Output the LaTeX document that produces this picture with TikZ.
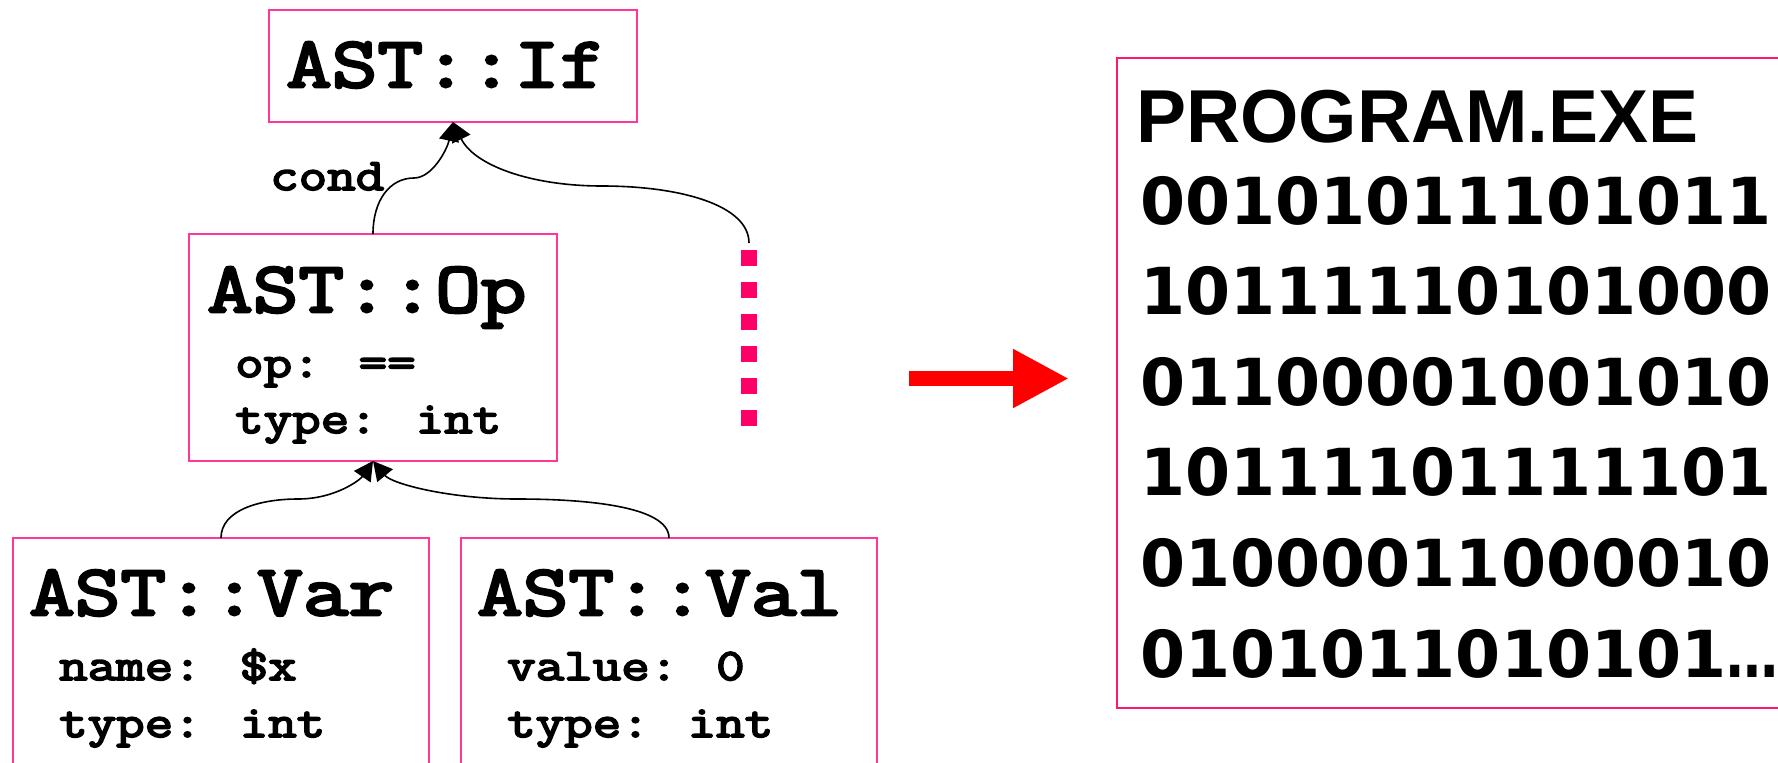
\documentclass[tikz,border=0pt]{standalone}
\usepackage{fontspec}
\usepackage{graphicx}
\usetikzlibrary{arrows.meta}
\newfontfamily\courfont{Latin Modern Mono}[FakeBold=4,FakeStretch=1.23]
\newfontfamily\helvfont{Liberation Sans}
\newfontfamily\binfont{DejaVu Sans}
\definecolor{boxpink}{RGB}{255,55,155}
\definecolor{exepink}{RGB}{255,25,110}
\definecolor{dotpink}{RGB}{255,0,102}
\tikzset{
  astbox/.style={draw=boxpink, line width=2pt, inner sep=0pt, outer sep=0pt},
  exebox/.style={draw=exepink, line width=2pt, inner sep=0pt, outer sep=0pt},
  conn/.style={line width=1.6pt, -{Triangle[length=19pt,width=20pt]}},
  bigtxt/.style={anchor=base west, inner sep=0pt, font=\courfont\fontsize{72}{72}\selectfont},
  smalltxt/.style={anchor=base west, inner sep=0pt, font=\courfont\fontsize{45}{45}\selectfont},
  bintxt/.style={anchor=base west, inner sep=0pt, font=\binfont\bfseries\fontsize{64.8}{64.8}\selectfont},
}
\begin{document}
\begin{tikzpicture}[x=1pt,y=-1pt]
\useasboundingbox (0,0) rectangle (1778,763);
\clip (0,0) rectangle (1778,763);
% boxes
\node[astbox, minimum width=368pt, minimum height=112pt] (if) at (453,66) {};
\node[astbox, minimum width=368pt, minimum height=227pt] (op) at (373,347.5) {};
\node[astbox, minimum width=416pt, minimum height=242pt] (var) at (221,659) {};
\node[astbox, minimum width=416pt, minimum height=242pt] (val) at (669,659) {};
\node[exebox, minimum width=683pt, minimum height=650pt] (exe) at (1458.5,383) {};
% texts
\node[bigtxt] (tif) at (286,87) {AST::If};
\node[smalltxt] (tcond) at (270,190) {cond};
\node[bigtxt] (top) at (207,312) {AST::Op};
\node[smalltxt] (top1) at (235,377) {op: ==};
\node[smalltxt] (top2) at (235,433) {type: int};
\node[bigtxt] (tvar) at (29,615) {AST::Var};
\node[smalltxt] (tvar1) at (59,680) {name: \$x};
\node[smalltxt] (tvar2) at (59,737) {type: int};
\node[bigtxt] (tval) at (477,615) {AST::Val};
\node[smalltxt] (tval1) at (507,680) {value: 0};
\node[smalltxt] (tval2) at (507,737) {type: int};
\node[anchor=base west, inner sep=0pt, font=\helvfont\bfseries\fontsize{75}{75}\selectfont] (tprog) at (1136,142) {PROGRAM.EXE};
\node[bintxt] (b1) at (1140,224) {00101011101011};
\node[bintxt] (b2) at (1140,314.6) {10111110101000};
\node[bintxt] (b3) at (1140,405.2) {01100001001010};
\node[bintxt] (b4) at (1140,495.8) {10111101111101};
\node[bintxt] (b5) at (1140,586.4) {01000011000010};
\node[bintxt] (b6) at (1140,677) {0101011010101\scalebox{0.8}[1]{…}};
% dotted continuation
\coordinate (more) at (749,243);
\draw[dotpink, line width=16pt, dash pattern=on 16pt off 16pt] (749,250) -- (749,426);
% connectors
\draw[conn] (op.north) .. controls (373,200) and (390,178) .. (414,178) .. controls (432,178) and (447,150) .. (if.south);
\draw[conn] (more) .. controls (749,205) and (680,186) .. (602,186) .. controls (530,186) and (474,165) .. (if.south);
\draw[conn] (var.north) .. controls (221,510) and (260,499) .. (298,499) .. controls (335,499) and (360,480) .. (op.south);
\draw[conn] (val.north) .. controls (669,505) and (580,499) .. (517,499) .. controls (450,499) and (392,484) .. (op.south);
% red arrow
\coordinate (ra) at (909,378.5);
\coordinate (rb) at (1069,378.5);
\draw[red, line width=15pt, -{Triangle[length=56pt,width=55pt]}] (ra) -- (rb);
\end{tikzpicture}
\end{document}
